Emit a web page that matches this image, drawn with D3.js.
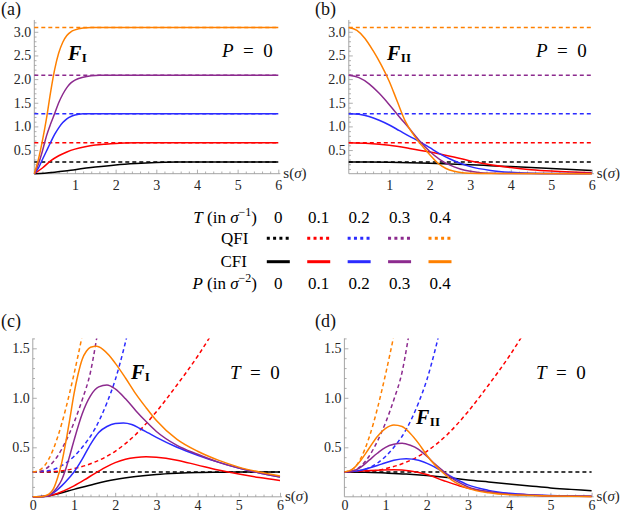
<!DOCTYPE html>
<html>
<head>
<meta charset="utf-8">
<script src="https://cdn.jsdelivr.net/npm/d3@7/dist/d3.min.js"></script>
<style>
html,body{margin:0;padding:0;background:#fff;}
svg{display:block;}
svg text{font-family:"Liberation Serif","DejaVu Serif",serif;}
</style>
</head>
<body>
<svg id="chart" width="630" height="516"></svg>
<script>
// ================= DATA =================
const seriesNames = ["black", "red", "blue", "purple", "orange"];
const tLabels = ["0", "0.1", "0.2", "0.3", "0.4"];
const pLabels = ["0", "0.1", "0.2", "0.3", "0.4"];
const xLabelsTop = [1, 2, 3, 4, 5, 6];
const xLabelsBottom = [0, 1, 2, 3, 4, 5, 6];
const yLabelsTop = [0.5, 1.0, 1.5, 2.0, 2.5, 3.0];
const yLabelsBottom = [0.5, 1.0, 1.5];

// QFI (constant in s) for P = 0, T = 0 ... 0.4 — panels (a),(b)
const qfiLevelsP0 = [0.25, 0.655, 1.27, 2.08, 3.09];

// (a) CFI F_I, P = 0
const cfiA_T0 = [[0,0],[0.25,0.01],[0.5,0.03],[0.75,0.055],[1,0.085],[1.5,0.14],[2,0.185],[2.5,0.215],[3,0.235],[3.5,0.245],[4,0.25],[6,0.25]];
const cfiA_T1 = [[0,0],[0.2,0.12],[0.4,0.27],[0.6,0.38],[0.8,0.46],[1,0.52],[1.25,0.57],[1.5,0.605],[1.75,0.625],[2,0.64],[2.5,0.652],[3,0.655],[6,0.655]];
const cfiA_T2 = [[0,0],[0.1,0.12],[0.2,0.3],[0.3,0.48],[0.4,0.66],[0.5,0.83],[0.6,0.97],[0.7,1.08],[0.8,1.16],[0.9,1.21],[1,1.24],[1.2,1.265],[1.5,1.27],[6,1.27]];
const cfiA_T3 = [[0,0],[0.1,0.2],[0.2,0.48],[0.3,0.8],[0.4,1.05],[0.5,1.27],[0.6,1.5],[0.7,1.68],[0.8,1.82],[0.9,1.92],[1,1.98],[1.2,2.04],[1.4,2.07],[1.6,2.08],[6,2.08]];
const cfiA_T4 = [[0,0],[0.1,0.3],[0.2,0.7],[0.3,1.17],[0.4,1.72],[0.5,2.2],[0.6,2.55],[0.7,2.78],[0.8,2.92],[0.9,3.0],[1,3.04],[1.2,3.08],[1.4,3.09],[6,3.09]];

// (b) CFI F_II, P = 0
const cfiB_T0 = [[0,0.25],[0.5,0.248],[1,0.243],[1.5,0.233],[2,0.22],[2.5,0.205],[3,0.19],[3.5,0.17],[4,0.15],[4.5,0.13],[5,0.11],[5.5,0.09],[6,0.07]];
const cfiB_T1 = [[0,0.655],[0.5,0.64],[1,0.6],[1.5,0.535],[2,0.46],[2.5,0.37],[3,0.27],[3.5,0.19],[4,0.13],[4.5,0.085],[5,0.055],[5.5,0.035],[6,0.02]];
const cfiB_T2 = [[0,1.27],[0.25,1.255],[0.5,1.21],[0.75,1.13],[1,1.03],[1.25,0.91],[1.5,0.79],[1.75,0.68],[2,0.55],[2.25,0.42],[2.5,0.31],[2.75,0.22],[3,0.15],[3.5,0.07],[4,0.03],[4.5,0.012],[5,0.005],[6,0.002]];
const cfiB_T3 = [[0,2.08],[0.25,2.03],[0.5,1.9],[0.75,1.7],[1,1.46],[1.25,1.2],[1.5,0.95],[1.75,0.69],[2,0.47],[2.25,0.3],[2.5,0.18],[2.75,0.1],[3,0.05],[3.25,0.02],[3.5,0.01],[4,0.002],[6,0]];
const cfiB_T4 = [[0,3.09],[0.2,3.03],[0.4,2.86],[0.6,2.6],[0.8,2.3],[1,1.95],[1.2,1.52],[1.4,1.1],[1.6,0.82],[1.8,0.6],[2,0.4],[2.2,0.22],[2.4,0.11],[2.6,0.05],[2.8,0.02],[3,0.01],[3.5,0.002],[6,0]];

// QFI for T = 0, P = 0 ... 0.4 — panels (c),(d)
const qfiT0_P0 = [[0,0.25],[6,0.25]];
const qfiT0_P1 = [[0,0.25],[0.5,0.255],[1,0.285],[1.5,0.35],[2,0.46],[2.5,0.63],[3,0.86],[3.5,1.13],[4,1.42],[4.5,1.75]];
const qfiT0_P2 = [[0,0.25],[0.4,0.265],[0.8,0.34],[1.2,0.5],[1.5,0.68],[1.8,0.95],[2,1.18],[2.2,1.48],[2.3,1.65],[2.4,1.83]];
const qfiT0_P3 = [[0,0.25],[0.2,0.26],[0.4,0.31],[0.6,0.41],[0.8,0.56],[1,0.75],[1.2,0.98],[1.4,1.26],[1.55,1.6],[1.65,1.85]];
const qfiT0_P4 = [[0,0.25],[0.2,0.28],[0.4,0.39],[0.6,0.6],[0.8,0.89],[0.9,1.06],[1,1.24],[1.1,1.43],[1.2,1.63],[1.3,1.85]];

// (c) CFI F_I, T = 0
const cfiC_P0 = [[0,0],[0.3,0.005],[0.5,0.02],[1,0.075],[1.5,0.13],[2,0.175],[2.5,0.205],[3,0.225],[3.5,0.237],[4,0.245],[4.5,0.248],[5,0.25],[6,0.25]];
const cfiC_P1 = [[0,0],[0.3,0.005],[0.5,0.02],[0.75,0.06],[1,0.11],[1.25,0.17],[1.5,0.235],[1.75,0.295],[2,0.345],[2.25,0.38],[2.5,0.398],[2.75,0.405],[3,0.4],[3.5,0.37],[4,0.32],[4.5,0.27],[5,0.23],[5.5,0.195],[6,0.165]];
const cfiC_P2 = [[0,0],[0.3,0.005],[0.5,0.04],[0.7,0.11],[0.9,0.2],[1,0.25],[1.2,0.38],[1.4,0.53],[1.6,0.65],[1.8,0.71],[2,0.74],[2.2,0.745],[2.4,0.73],[2.6,0.69],[2.8,0.645],[3,0.6],[3.5,0.5],[4,0.42],[4.5,0.35],[5,0.29],[5.5,0.24],[6,0.2]];
const cfiC_P3 = [[0,0],[0.3,0.003],[0.5,0.05],[0.6,0.1],[0.7,0.17],[0.8,0.28],[0.9,0.42],[1,0.57],[1.2,0.84],[1.4,1.02],[1.6,1.11],[1.8,1.13],[2,1.09],[2.25,0.99],[2.5,0.87],[2.75,0.76],[3,0.66],[3.5,0.52],[4,0.43],[4.5,0.35],[5,0.29],[5.5,0.24],[6,0.2]];
const cfiC_P4 = [[0,0],[0.2,0.0],[0.3,0.01],[0.4,0.03],[0.5,0.08],[0.6,0.19],[0.7,0.34],[0.8,0.55],[0.9,0.79],[1,1.04],[1.1,1.24],[1.2,1.39],[1.3,1.47],[1.4,1.51],[1.55,1.52],[1.7,1.49],[1.85,1.43],[2,1.35],[2.25,1.2],[2.5,1.04],[2.75,0.9],[3,0.77],[3.5,0.58],[4,0.46],[4.5,0.37],[5,0.3],[5.5,0.25],[6,0.21]];

// (d) CFI F_II, T = 0
const cfiD_P0 = [[0,0.25],[0.5,0.248],[1,0.24],[1.5,0.23],[2,0.215],[2.5,0.195],[3,0.17],[3.5,0.15],[4,0.13],[4.5,0.11],[5,0.09],[5.5,0.075],[6,0.06]];
const cfiD_P1 = [[0,0.25],[0.4,0.26],[0.8,0.268],[1.2,0.272],[1.6,0.26],[2,0.225],[2.4,0.165],[2.8,0.11],[3.2,0.07],[3.6,0.045],[4,0.03],[4.5,0.018],[5,0.01],[6,0.004]];
const cfiD_P2 = [[0,0.25],[0.3,0.26],[0.6,0.29],[0.9,0.33],[1.2,0.37],[1.5,0.385],[1.8,0.37],[2.1,0.32],[2.4,0.25],[2.7,0.18],[3,0.12],[3.5,0.065],[4,0.035],[4.5,0.02],[5,0.012],[6,0.005]];
const cfiD_P3 = [[0,0.25],[0.2,0.26],[0.4,0.3],[0.6,0.37],[0.8,0.44],[1,0.5],[1.2,0.53],[1.4,0.54],[1.6,0.52],[1.8,0.48],[2,0.41],[2.2,0.33],[2.4,0.26],[2.6,0.19],[2.8,0.14],[3,0.1],[3.5,0.05],[4,0.025],[5,0.01],[6,0.005]];
const cfiD_P4 = [[0,0.25],[0.2,0.28],[0.4,0.37],[0.6,0.49],[0.8,0.61],[1,0.69],[1.2,0.725],[1.4,0.71],[1.6,0.64],[1.8,0.54],[2,0.42],[2.2,0.32],[2.4,0.24],[2.6,0.17],[2.8,0.12],[3,0.085],[3.5,0.04],[4,0.02],[5,0.008],[6,0.003]];

// ================= STYLE =================
const colors = {black:"#000000", red:"#ff0000", blue:"#2b2bff", purple:"#8c2a8e", orange:"#ff8000"};
const AXIS = "#9a9a9a";
const LABEL = "#262626";

const svg = d3.select("#chart");

function drawPanel(p) {
  const x = d3.scaleLinear().domain([0, 6]).range(p.xr);
  const y = d3.scaleLinear().domain(p.yd).range(p.yr);
  const g = svg.append("g");
  const clipId = "clip-" + p.id;
  svg.append("clipPath").attr("id", clipId).append("rect")
    .attr("x", x(0) - 2).attr("y", y(p.ymax))
    .attr("width", x(6) - x(0) + 4).attr("height", y(0) - y(p.ymax) + 3);

  // minor / major ticks (inward)
  const xMinor = d3.range(1, 31).map(i => i * 0.2).filter(v => Math.abs(v - Math.round(v)) > 1e-6);
  const yMinor = d3.range(1, Math.floor(p.ymax * 10) + 1).map(i => i / 10).filter(v => Math.abs(v * 2 - Math.round(v * 2)) > 1e-6);
  const yMajor = d3.range(1, Math.floor(p.ymax * 2) + 1).map(i => i / 2);

  const tickG = g.append("g");
  tickG.append("g").attr("transform", `translate(0,${y(0)})`)
    .call(d3.axisTop(x).tickValues(xMinor).tickSize(2.2).tickFormat(""));
  tickG.append("g").attr("transform", `translate(0,${y(0)})`)
    .call(d3.axisTop(x).tickValues([1,2,3,4,5,6]).tickSize(4).tickFormat(""));
  tickG.append("g").attr("transform", `translate(${x(0)},0)`)
    .call(d3.axisRight(y).tickValues(yMinor).tickSize(2.2).tickFormat(""));
  tickG.append("g").attr("transform", `translate(${x(0)},0)`)
    .call(d3.axisRight(y).tickValues(yMajor).tickSize(4).tickFormat(""));
  tickG.selectAll(".domain").remove();
  tickG.selectAll("line").attr("stroke", AXIS).attr("stroke-width", 0.8);

  // axis lines
  g.append("line").attr("x1", x(0)).attr("x2", x(6) + 2).attr("y1", y(0)).attr("y2", y(0))
    .attr("stroke", AXIS).attr("stroke-width", 0.9);
  g.append("line").attr("x1", x(0)).attr("x2", x(0)).attr("y1", y(0)).attr("y2", y(p.ymax))
    .attr("stroke", AXIS).attr("stroke-width", 0.9);

  // tick labels
  const xl = g.append("g").attr("transform", `translate(0,${y(0)})`)
    .call(d3.axisBottom(x).tickValues(p.xLabels).tickSize(0).tickPadding(p.xPad).tickFormat(d3.format("d")));
  const yl = g.append("g").attr("transform", `translate(${x(0)},0)`)
    .call(d3.axisLeft(y).tickValues(p.yLabels).tickSize(0).tickPadding(3).tickFormat(d3.format(".1f")));
  [xl, yl].forEach(a => {
    a.attr("font-family", null).attr("font-size", null);
    a.select(".domain").remove();
    a.selectAll("text").style("font-size", "14px").attr("fill", LABEL);
  });

  // curves
  const line = d3.line().x(d => x(d[0])).y(d => y(d[1])).curve(d3.curveMonotoneX);
  const plot = g.append("g").attr("clip-path", `url(#${clipId})`);
  p.dashed.forEach((s, i) => {
    plot.append("path").attr("d", line(s)).attr("fill", "none")
      .attr("stroke", colors[seriesNames[i]]).attr("stroke-width", 1.5)
      .attr("stroke-dasharray", "4,3");
  });
  p.solid.forEach((s, i) => {
    plot.append("path").attr("d", line(s)).attr("fill", "none")
      .attr("stroke", colors[seriesNames[i]]).attr("stroke-width", 1.5);
  });

  // axis title s(σ)
  const at = svg.append("text").attr("x", x(6) + 5).attr("y", y(0) + 4)
    .style("font-size", "15px").attr("fill", LABEL);
  at.append("tspan").text("s(");
  at.append("tspan").style("font-style", "italic").text("σ");
  at.append("tspan").text(")");

  // panel tag
  svg.append("text").attr("x", p.tag[0]).attr("y", p.tag[1])
    .style("font-size", "18px").attr("fill", "#111").text(p.tagText);

  // F label
  const f = svg.append("text").attr("x", p.f[0]).attr("y", p.f[1])
    .style("font-weight", "bold").attr("fill", "#000");
  f.append("tspan").style("font-style", "italic").style("font-size", "20px").text("F");
  f.append("tspan").style("font-size", "13px").attr("dy", 2).attr("dx", 0.5).text(p.fSub);

  // condition label
  const c = svg.append("text").attr("x", p.cond[0]).attr("y", p.cond[1])
    .style("font-size", "19px").attr("fill", "#000")
    .style("white-space", "pre");
  c.append("tspan").style("font-style", "italic").text(p.condVar);
  c.append("tspan").text("\u2002=\u20020");
}

const dashP0 = qfiLevelsP0.map(q => [[0, q], [6, q]]);

drawPanel({id:"a", xr:[34.3, 278.3], yd:[0, 3], yr:[173.7, 31.8], ymax:3.25,
  xLabels:xLabelsTop, yLabels:yLabelsTop, xPad:6,
  dashed:dashP0, solid:[cfiA_T0, cfiA_T1, cfiA_T2, cfiA_T3, cfiA_T4],
  tag:[1, 15], tagText:"(a)", f:[68, 60], fSub:"I", cond:[222, 57], condVar:"P"});
drawPanel({id:"b", xr:[348.8, 591.8], yd:[0, 3], yr:[173.7, 31.8], ymax:3.25,
  xLabels:xLabelsTop, yLabels:yLabelsTop, xPad:6,
  dashed:dashP0, solid:[cfiB_T0, cfiB_T1, cfiB_T2, cfiB_T3, cfiB_T4],
  tag:[315, 15], tagText:"(b)", f:[387, 60], fSub:"II", cond:[536, 57], condVar:"P"});
drawPanel({id:"c", xr:[32.8, 280], yd:[0, 1.5], yr:[496.8, 348.3], ymax:1.6,
  xLabels:xLabelsBottom, yLabels:yLabelsBottom, xPad:3.3,
  dashed:[qfiT0_P0, qfiT0_P1, qfiT0_P2, qfiT0_P3, qfiT0_P4], solid:[cfiC_P0, cfiC_P1, cfiC_P2, cfiC_P3, cfiC_P4],
  tag:[1, 327], tagText:"(c)", f:[131, 379], fSub:"I", cond:[230, 379], condVar:"T"});
drawPanel({id:"d", xr:[344.4, 591.6], yd:[0, 1.5], yr:[496.8, 348.3], ymax:1.6,
  xLabels:xLabelsBottom, yLabels:yLabelsBottom, xPad:3.3,
  dashed:[qfiT0_P0, qfiT0_P1, qfiT0_P2, qfiT0_P3, qfiT0_P4], solid:[cfiD_P0, cfiD_P1, cfiD_P2, cfiD_P3, cfiD_P4],
  tag:[315, 327], tagText:"(d)", f:[416, 424], fSub:"II", cond:[536, 379], condVar:"T"});

// ================= LEGEND =================
const col = d3.scalePoint().domain(d3.range(tLabels.length)).range([278.3, 440]);
const leg = svg.append("g").attr("fill", "#000");

function unitLabel(varName, exp, baseline) {
  const t = leg.append("text").attr("x", 257).attr("y", baseline)
    .attr("text-anchor", "end").style("font-size", "17px").style("white-space", "pre");
  t.append("tspan").style("font-style", "italic").text(varName);
  t.append("tspan").text(" (in ");
  t.append("tspan").style("font-style", "italic").text("σ");
  t.append("tspan").attr("dy", -7).style("font-size", "12px").text("−" + exp);
  t.append("tspan").attr("dy", 7).text(")");
}
unitLabel("T", "1", 222.5);
unitLabel("P", "2", 289);

tLabels.forEach((v, i) => leg.append("text").attr("x", col(i)).attr("y", 222.5)
  .attr("text-anchor", "middle").style("font-size", "17px").text(v));
pLabels.forEach((v, i) => leg.append("text").attr("x", col(i)).attr("y", 289)
  .attr("text-anchor", "middle").style("font-size", "17px").text(v));

leg.append("text").attr("x", 248.5).attr("y", 244).attr("text-anchor", "end").style("font-size", "17px").text("QFI");
leg.append("text").attr("x", 247).attr("y", 267).attr("text-anchor", "end").style("font-size", "17px").text("CFI");

seriesNames.forEach((name, i) => {
  leg.append("line").attr("x1", col(i) - 11.5).attr("x2", col(i) + 11.5)
    .attr("y1", 238.3).attr("y2", 238.3).attr("stroke", colors[name])
    .attr("stroke-width", 3).attr("stroke-dasharray", "3,3.3");
  leg.append("line").attr("x1", col(i) - 11.5).attr("x2", col(i) + 11.5)
    .attr("y1", 261.7).attr("y2", 261.7).attr("stroke", colors[name])
    .attr("stroke-width", 3);
});
</script>
</body>
</html>
